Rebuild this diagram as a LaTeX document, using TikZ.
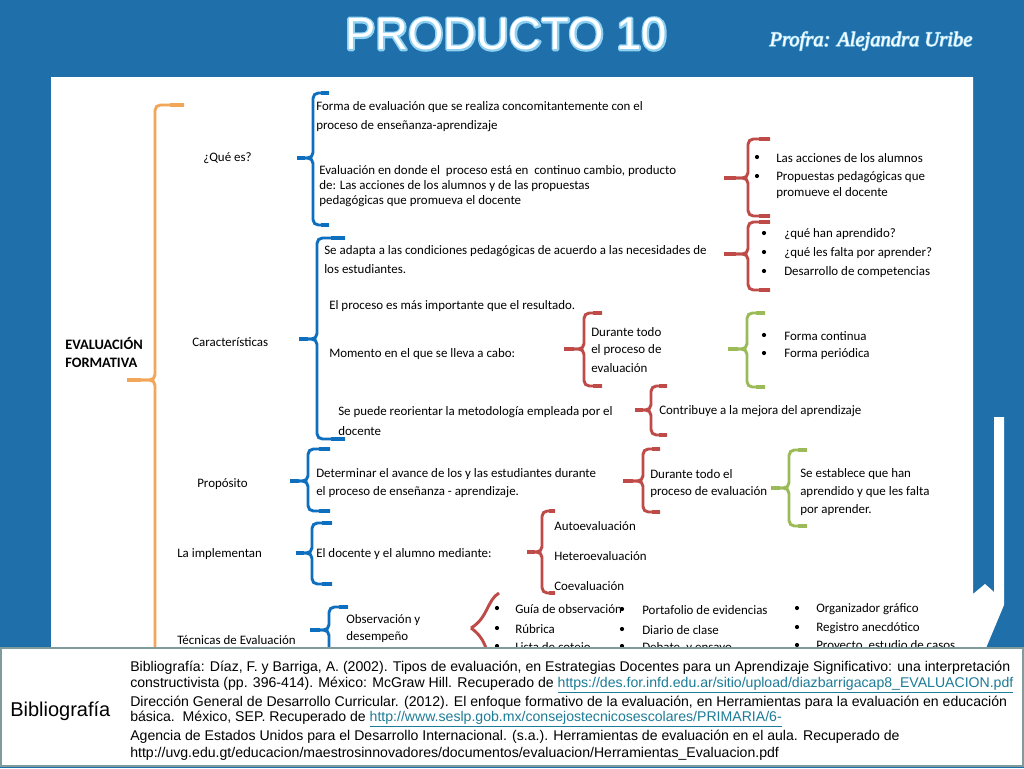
\documentclass[tikz,border=0pt]{standalone}
\usepackage{fontspec}
\setmainfont{Carlito}
\newfontfamily\arialfont{Liberation Sans}
\newfontfamily\signfont{Liberation Serif}
\definecolor{slideblue}{HTML}{1F6FAA}
\definecolor{curlyorange}{HTML}{F2A65A}
\definecolor{curlyblue}{HTML}{0F6FBF}
\definecolor{curlyred}{HTML}{BE4B48}
\definecolor{curlygreen}{HTML}{9BBB59}
\definecolor{boxedge}{HTML}{7F9C9C}
\definecolor{linkteal}{HTML}{1C7C98}
\tikzset{
  lbl/.style={black, right, inner sep=0pt, yshift=-0.75pt, font=\fontsize{9.7}{11}\selectfont},
  bib/.style={black, right, inner sep=0pt, font=\arialfont\fontsize{10.57}{12}\selectfont},
  curlyline/.style={line width=2.2pt, rounded corners=4pt},
}
% colour, spine x, top y, tip y, bottom y, hook x, tip x
\newcommand{\curly}[7]{%
  \draw[curlyline, #1] (#6,#3) -- (#2,#3) -- (#2,#4) -- (#7,#4);
  \draw[curlyline, #1] (#6,#5) -- (#2,#5) -- (#2,#4) -- (#7,#4);
  \draw[#1, line width=3.2pt] (#7,#4) -- ({(#2+#7)/2},#4);
  \draw[#1, line width=2.8pt] (#6,#3) -- ({(#2+#6)/2},#3);
  \draw[#1, line width=2.8pt] (#6,#5) -- ({(#2+#6)/2},#5);
}
% halo width, text
\newcommand{\glowtext}[2]{\rlap{\special{pdf:code q 1 Tr #1 w 1 j 0.56 0.82 0.95 RG 0.56 0.82 0.95 rg}#2\special{pdf:code Q}}\color{white}#2}
\begin{document}
\begin{tikzpicture}[x=0.75pt, y=-0.75pt]
\useasboundingbox (0,0) rectangle (1024,768);
% slide
\fill[slideblue] (0,0) rectangle (1024,768);
\fill[white] (51,77) -- (973,77) -- (973,594) -- (985,584) -- (994,592) -- (994,417) -- (1004,417) -- (1004,605) -- (986,648) -- (51,648) -- cycle;
\node[anchor=center, inner sep=0pt, font=\arialfont\fontsize{34}{36}\selectfont] (title) at (506,34) {\glowtext{2.6}{PRODUCTO 10}};
\node[anchor=center, inner sep=0pt, font=\signfont\itshape\fontsize{15.4}{18}\selectfont] (teacher) at (871,41) {\glowtext{1}{Profra: Alejandra Uribe}};
% braces
\curly{curlyorange}{155}{105}{380}{700}{184}{127}
\curly{curlyblue}{313}{93}{158}{225}{329}{297}
\curly{curlyblue}{317}{238}{339}{439}{345}{299}
\curly{curlyblue}{308}{449}{481}{511}{330}{290}
\curly{curlyblue}{312}{523}{553}{584}{332}{296}
\curly{curlyblue}{329}{607}{630}{700}{348}{310}
\curly{curlyred}{748}{139}{178}{216}{770}{724}
\curly{curlyred}{748}{222}{254}{290}{770}{724}
\curly{curlyred}{584}{313}{349}{386}{602}{564}
\curly{curlyred}{651}{386}{410}{435}{667}{635}
\curly{curlyred}{643}{449}{481}{512}{660}{623}
\curly{curlyred}{542}{511}{552}{593}{555}{527}
\draw[curlyred, line width=2.2pt] (499,593) .. controls (487,600) and (488,618) .. (471,628);
\draw[curlyred, line width=2.2pt] (471,628) .. controls (488,640) and (487,655) .. (495,680);
\curly{curlygreen}{747}{313}{349}{387}{765}{728}
\curly{curlygreen}{789}{450}{488}{526}{807}{771}
% main label
\node[lbl, font=\bfseries\fontsize{10.8}{12}\selectfont] (eval) at (65,342) {EVALUACIÓN};
\node[lbl, font=\bfseries\fontsize{10.8}{12}\selectfont] (form) at (65,362) {FORMATIVA};
% que es
\node[lbl] (quees) at (203,157) {¿Qué es?};
\node[lbl] (que1) at (316,106) {Forma de evaluación que se realiza concomitantemente con el};
\node[lbl] (que2) at (316,125) {proceso de enseñanza-aprendizaje};
\node[lbl] (que3) at (319,170) {Evaluación en donde el\ \ proceso está en\ \ continuo cambio, producto};
\node[lbl] (que4) at (319,185) {de: Las acciones de los alumnos y de las propuestas};
\node[lbl] (que5) at (319,200) {pedagógicas que promueva el docente};
\node[lbl] (acc1) at (776,157) {Las acciones de los alumnos};
\node[lbl] (acc2) at (776,176) {Propuestas pedagógicas que};
\node[lbl] (acc3) at (776,192) {promueve el docente};
\node[lbl] (han1) at (784,233) {¿qué han aprendido?};
\node[lbl] (han2) at (784,252) {¿qué les falta por aprender?};
\node[lbl] (han3) at (784,271) {Desarrollo de competencias};
% caracteristicas
\node[lbl] (carac) at (192,341) {Características};
\node[lbl] (car1) at (324,250) {Se adapta a las condiciones pedagógicas de acuerdo a las necesidades de};
\node[lbl] (car2) at (324,268) {los estudiantes.};
\node[lbl] (car3) at (329,305) {El proceso es más importante que el resultado.};
\node[lbl] (car4) at (329,353) {Momento en el que se lleva a cabo:};
\node[lbl] (dur1) at (591,331) {Durante todo};
\node[lbl] (dur2) at (591,349) {el proceso de};
\node[lbl] (dur3) at (591,367) {evaluación};
\node[lbl] (con1) at (784,335) {Forma continua};
\node[lbl] (con2) at (784,353) {Forma periódica};
\node[lbl] (car5) at (338,411) {Se puede reorientar la metodología empleada por el};
\node[lbl] (car6) at (338,430) {docente};
\node[lbl] (contr) at (659,410) {Contribuye a la mejora del aprendizaje};
% proposito
\node[lbl] (prop) at (197,483) {Propósito};
\node[lbl] (pro1) at (316,473) {Determinar el avance de los y las estudiantes durante};
\node[lbl] (pro2) at (316,491) {el proceso de enseñanza - aprendizaje.};
\node[lbl] (pro3) at (650,473) {Durante todo el};
\node[lbl] (pro4) at (650,491) {proceso de evaluación};
\node[lbl] (pro5) at (800,473) {Se establece que han};
\node[lbl] (pro6) at (800,491) {aprendido y que les falta};
\node[lbl] (pro7) at (800,509) {por aprender.};
% implementan
\node[lbl] (impl) at (177,553) {La implementan};
\node[lbl] (imp1) at (316,553) {El docente y el alumno mediante:};
\node[lbl] (imp2) at (554,525) {Autoevaluación};
\node[lbl] (imp3) at (554,555) {Heteroevaluación};
\node[lbl] (imp4) at (554,585) {Coevaluación};
% tecnicas
\node[lbl] (tecn) at (177,639) {Técnicas de Evaluación};
\node[lbl] (tec1) at (346,619) {Observación y};
\node[lbl] (tec2) at (346,636) {desempeño};
\node[lbl] (tec3) at (515,608) {Guía de observación};
\node[lbl] (tec4) at (515,628) {Rúbrica};
\node[lbl] (tec5) at (515,647) {Lista de cotejo};
\node[lbl] (tec6) at (642,609) {Portafolio de evidencias};
\node[lbl] (tec7) at (642,629) {Diario de clase};
\node[lbl] (tec8) at (642,647) {Debate, y ensayo};
\node[lbl] (tec9) at (816,608) {Organizador gráfico};
\node[lbl] (tec10) at (816,627) {Registro anecdótico};
\node[lbl] (tec11) at (816,645) {Proyecto, estudio de casos};
% bullets
\fill[black] (757,157) circle (2.1);
\fill[black] (757,176) circle (2.1);
\fill[black] (764,233) circle (2.1);
\fill[black] (764,252) circle (2.1);
\fill[black] (764,271) circle (2.1);
\fill[black] (764,335) circle (2.1);
\fill[black] (764,353) circle (2.1);
\fill[black] (497,608) circle (2.1);
\fill[black] (497,628) circle (2.1);
\fill[black] (497,646) circle (2.1);
\fill[black] (622,609) circle (2.1);
\fill[black] (622,629) circle (2.1);
\fill[black] (622,646) circle (2.1);
\fill[black] (797,608) circle (2.1);
\fill[black] (797,627) circle (2.1);
\fill[black] (797,645) circle (2.1);
% bibliography
\draw[boxedge, fill=white, line width=2pt] (1,648) rectangle (1023,766);
\node[bib, font=\arialfont\fontsize{15}{17}\selectfont] (bibl) at (10,711) {Bibliografía};
\node[bib] (bib1) at (130,668) {Bibliografía: Díaz, F. y Barriga, A. (2002). Tipos de evaluación, en Estrategias Docentes para un Aprendizaje Significativo: una interpretación};
\node[bib] (bib2) at (130,685.5) {constructivista (pp. 396-414). México: McGraw Hill. Recuperado de {\color{linkteal}\underline{https://des.for.infd.edu.ar/sitio/upload/diazbarrigacap8\_EVALUACION.pdf}}};
\node[bib] (bib3) at (130,703) {Dirección General de Desarrollo Curricular. (2012). El enfoque formativo de la evaluación, en Herramientas para la evaluación en educación};
\node[bib] (bib4) at (130,719.5) {básica.\ \ México, SEP. Recuperado de {\color{linkteal}\underline{http://www.seslp.gob.mx/consejostecnicosescolares/PRIMARIA/6-}}};
\node[bib] (bib5) at (130,736.5) {Agencia de Estados Unidos para el Desarrollo Internacional. (s.a.). Herramientas de evaluación en el aula. Recuperado de};
\node[bib] (bib6) at (130,754) {http://uvg.edu.gt/educacion/maestrosinnovadores/documentos/evaluacion/Herramientas\_Evaluacion.pdf};
\end{tikzpicture}
\end{document}
